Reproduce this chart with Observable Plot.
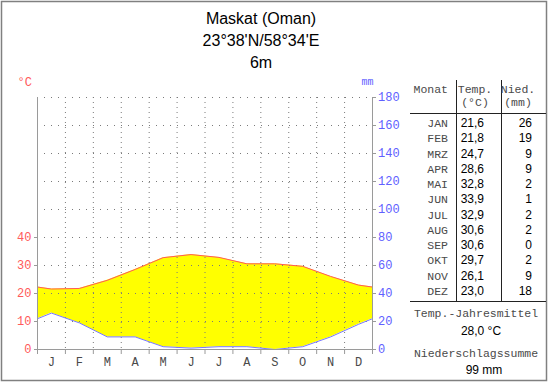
<!DOCTYPE html>
<html><head><meta charset="utf-8">
<script src="https://cdn.jsdelivr.net/npm/d3@7"></script>
<script src="https://cdn.jsdelivr.net/npm/@observablehq/plot@0.6"></script>
<style>
body{margin:0;background:#fff}
#wrap{position:relative;width:550px;height:384px}
</style></head><body><div id="wrap"></div>
<script>
// ---- data ----
const months = ["JAN","FEB","MRZ","APR","MAI","JUN","JUL","AUG","SEP","OKT","NOV","DEZ"];
const monthInitials = ["J","F","M","A","M","J","J","A","S","O","N","D"];
const temperature = [21.6,21.8,24.7,28.6,32.8,33.9,32.9,30.6,30.6,29.7,26.1,23.0];
const precipitation = [26,19,9,9,2,1,2,2,0,2,9,18];
const tempTicks = [0,10,20,30,40];
const mmTicks = [0,20,40,60,80,100,120,140,160,180];
const titleLines = ["Maskat (Oman)","23°38'N/58°34'E","6m"];
const annualMeanLabel = "Temp.-Jahresmittel";
const annualMeanValue = "28,0 °C";
const annualSumLabel = "Niederschlagssumme";
const annualSumValue = "99 mm";

// Walter-Lieth: 10 °C corresponds to 20 mm
const rows = [];
rows.push({x:-0.5, t:temperature[11], p:precipitation[11]});
months.forEach((m,i)=>rows.push({x:i+0.5, t:temperature[i], p:precipitation[i]}));
rows.push({x:12.5, t:temperature[0], p:precipitation[0]});

const red = "#ff5a5a", blue = "#6060ff", grid = "#7a7a7a", axisGray = "#9a9a9a", monoInk = "#4a4a4a";
const mono = "'Liberation Mono','DejaVu Sans Mono',monospace";
const sans = "'Liberation Sans',Arial,sans-serif";

const chart = Plot.plot({
  width: 550, height: 384,
  marginLeft: 37, marginRight: 178, marginTop: 97, marginBottom: 35,
  x: {domain: [0, 12], axis: null},
  y: {domain: [0, 180], axis: null, label: null},
  style: {fontFamily: mono, fontSize: "12px", background: "#fff", overflow: "visible"},
  marks: [
    Plot.areaY(rows, {x: "x", y1: "p", y2: d => d.t * 2, fill: "#ffff00", clip: true}),
    Plot.ruleY(mmTicks.filter(d => d > 0), {stroke: grid, strokeDasharray: "1,6"}),
    Plot.ruleX(d3.range(1, 12), {stroke: grid, strokeDasharray: "1,4"}),
    Plot.lineY(rows, {x: "x", y: d => d.t * 2, stroke: red, strokeWidth: 1, clip: true}),
    Plot.lineY(rows, {x: "x", y: "p", stroke: "#7878ff", strokeWidth: 1, clip: true}),
    Plot.ruleX([0, 12], {stroke: axisGray}),
    Plot.ruleY([0], {stroke: axisGray}),
    Plot.axisX(d3.range(0, 13), {tickSize: 5, tickFormat: () => "", stroke: axisGray, label: null}),
    Plot.axisX(d3.range(12).map(i => i + 0.5), {tickSize: 0, tickPadding: 7.5, tickFormat: d => monthInitials[Math.floor(d)], fill: monoInk, label: null}),
    Plot.axisY(tempTicks.map(t => t * 2), {anchor: "left", tickSize: 3, tickPadding: 3, tickFormat: d => d / 2, fill: red, stroke: axisGray, label: null}),
    Plot.axisY(mmTicks, {anchor: "right", tickSize: 3, tickPadding: 2.5, fill: blue, stroke: axisGray, label: null}),
    Plot.text(["°C"], {frameAnchor: "top-left", dx: -20, dy: -12, textAnchor: "start", lineAnchor: "bottom", fill: red, fontSize: 12}),
    Plot.text(["mm"], {frameAnchor: "top-right", dx: 1, dy: -13, textAnchor: "end", lineAnchor: "bottom", fill: blue, fontSize: 10})
  ]
});
document.getElementById("wrap").appendChild(chart);

// ---- title, table and frame ----
const svg = d3.select(chart);
const g = svg.append("g");
g.append("rect").attr("x", 1.5).attr("y", 1.5).attr("width", 545).attr("height", 379)
  .attr("fill", "none").attr("stroke", "#808080").attr("stroke-width", 1.5);

titleLines.forEach((t, i) => g.append("text").attr("x", 261).attr("y", 24 + 22 * i)
  .attr("text-anchor", "middle").attr("font-family", sans).attr("font-size", 16).attr("fill", "#000").text(t));

const line = (x1, y1, x2, y2) => g.append("line").attr("x1", x1).attr("y1", y1).attr("x2", x2).attr("y2", y2)
  .attr("stroke", "#222").attr("stroke-width", 1);
line(456.5, 80, 456.5, 301);
line(501.5, 80, 501.5, 301);
line(410, 113.5, 546, 113.5);
line(410, 301.5, 546, 301.5);

const txt = (x, y, s, anchor, font, size, fill) => g.append("text").attr("x", x).attr("y", y)
  .attr("text-anchor", anchor).attr("font-family", font).attr("font-size", size).attr("fill", fill).text(s);

txt(448, 93, "Monat", "end", mono, 11.5, monoInk);
txt(475, 93, "Temp.", "middle", mono, 11.5, monoInk);
txt(475, 106, "(°C)", "middle", mono, 11.5, monoInk);
txt(518, 93, "Nied.", "middle", mono, 11.5, monoInk);
txt(518, 106, "(mm)", "middle", mono, 11.5, monoInk);

months.forEach((m, i) => {
  const y = 127 + i * 15.27;
  txt(448, y, m, "end", mono, 11.5, monoInk);
  txt(484, y, temperature[i].toFixed(1).replace(".", ","), "end", sans, 12, "#000");
  txt(532, y, String(precipitation[i]), "end", sans, 12, "#000");
});

txt(476, 317, annualMeanLabel, "middle", mono, 11.5, monoInk);
txt(481, 335, annualMeanValue, "middle", sans, 12, "#000");
txt(476, 357, annualSumLabel, "middle", mono, 11.5, monoInk);
txt(484, 374, annualSumValue, "middle", sans, 12, "#000");
</script>
</body></html>
